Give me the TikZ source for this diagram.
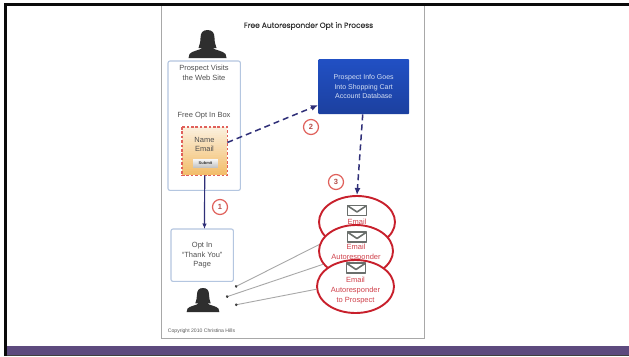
\documentclass[tikz,border=0pt]{standalone}
\usepackage{fontspec}
\setmainfont{Liberation Sans}
\newfontfamily\titlefont[FakeBold=0.25]{Poppins}
\usetikzlibrary{shapes.geometric,arrows.meta}
\definecolor{slideblack}{HTML}{0A0A0A}
\definecolor{bandpurple}{HTML}{5D4A7E}
\definecolor{pageedge}{HTML}{A8A8A8}
\definecolor{boxedge}{HTML}{B4C6E0}
\definecolor{navyline}{HTML}{2F2F78}
\definecolor{redline}{HTML}{C8202C}
\definecolor{softred}{HTML}{E0605A}
\definecolor{inktext}{HTML}{505050}
\definecolor{greyline}{HTML}{A8A8A8}
\definecolor{iconfill}{HTML}{6A6F6C}
\definecolor{peachtop}{HTML}{FBF0DE}
\definecolor{peachbottom}{HTML}{F3BE6C}
\definecolor{bluetop}{HTML}{2150C4}
\definecolor{bluebottom}{HTML}{1C409F}
\definecolor{bluetext}{HTML}{D5E0F5}
\tikzset{
  x=1pt,y=-1pt,
  bodytext/.style={inner sep=0pt,align=center,text=inktext,font=\fontsize{7.5}{9.8}\selectfont},
  flowedge/.style={color=boxedge,line width=1.1pt,rounded corners=2pt},
  optbox/.style={inner sep=0pt,anchor=north west},
  optedge/.style={color=softred,line width=1.1pt,dash pattern=on 2.6pt off 1.8pt},
  bluebox/.style={rounded corners=1pt,top color=bluetop,bottom color=bluebottom,inner sep=0pt,anchor=north west,align=center,text=bluetext,font=\fontsize{7}{9.2}\selectfont},
  mailoval/.style={ellipse,draw=redline,line width=1.9pt,fill=white,inner sep=0pt},
  mailtext/.style={inner sep=0pt,align=center,text=redline!85!white,font=\fontsize{7.5}{9.6}\selectfont},
  stepmark/.style={circle,draw=softred,line width=1.2pt,fill=white,minimum size=15pt,inner sep=0pt,text=softred!80!black,font=\bfseries\fontsize{7.5}{8}\selectfont},
  solidflow/.style={draw=navyline,line width=1.2pt,-{Latex[length=5.5pt,width=4.5pt]}},
  dashflow/.style={draw=navyline,line width=1.5pt,dash pattern=on 6pt off 4pt,-{Latex[length=7pt,width=6pt]}},
  replyline/.style={draw=greyline,line width=0.9pt,{Circle[length=2.6pt,black!75]}-},
  person/.pic={
    \fill[black!82] (0,0) .. controls (-5,0) and (-7,3) .. (-7,8)
      .. controls (-7,12) and (-8,15) .. (-9,18) -- (-5,18)
      .. controls (-7,20) and (-16,21) .. (-18,24) -- (-19,28) -- (19,28) -- (18,24)
      .. controls (16,21) and (7,20) .. (5,18) -- (9,18)
      .. controls (8,15) and (7,12) .. (7,8) .. controls (7,3) and (5,0) .. (0,0) -- cycle;
  },
  envelope/.pic={
    \draw[iconfill,line width=1.9pt,line join=round] (-9.5,-5) rectangle (9.5,5);
    \draw[iconfill,line width=1.6pt,line join=round] (-9,-4.5) -- (0,1.5) -- (9,-4.5);
  }
}
\begin{document}
\begin{tikzpicture}
\useasboundingbox (0,0) rectangle (629,356);
\fill[white] (0,0) rectangle (629,356);
% slide frame
\fill[slideblack] (4,3) rectangle (629,6);
\fill[slideblack] (4,3) rectangle (7,356);
\fill[bandpurple] (7,346) rectangle (629,355);
\fill[black!75] (7,355) rectangle (629,356);
% page
\draw[pageedge,line width=0.8pt] (161.5,6) -- (161.5,338) -- (424,338) -- (424,6);
% title
\node[inner sep=0pt,text=black!80,font=\titlefont\fontsize{7.5}{8}\selectfont] (title) at (308.5,26) {Free Autoresponder Opt in Process};
% people
\pic at (207.5,30) {person};
\pic[scale=0.86] at (203,288) {person};
\coordinate (replyA) at (235,287);
\coordinate (replyB) at (226,297);
\coordinate (replyC) at (235,305);
% boxes
\node[inner sep=0pt,anchor=north west,minimum width=72pt,minimum height=129pt] (visit) at (168,61) {};
\draw[flowedge] (visit.north west) rectangle (visit.south east);
\node[bodytext] (visittext) at (204,73) {Prospect Visits\\the Web Site};
\node[bodytext] (boxlabel) at (204,116) {Free Opt In Box};
\node[bodytext,anchor=north west,minimum width=62pt,minimum height=52pt] (thanks) at (171,229) {Opt In\\``Thank You''\\Page};
\draw[flowedge] (thanks.north west) rectangle (thanks.south east);
\node[optbox,minimum width=45pt,minimum height=48pt] (optin) at (182,127) {};
\foreach \i in {0,...,23}{
  \pgfmathsetmacro{\mixpct}{100*\i/23}
  \fill[peachbottom!\mixpct!peachtop] (182,127+2*\i) rectangle (227,129.2+2*\i);
}
\draw[optedge] (optin.north west) rectangle (optin.south east);
\node[bodytext] (fields) at (204.5,144.5) {Name\\Email};
\foreach \i in {0,...,8}{
  \pgfmathsetmacro{\mixpct}{3+2.5*\i}
  \fill[black!\mixpct] (193,159+\i) rectangle (218,160.2+\i);
}
\node[minimum width=25pt,minimum height=9pt,inner sep=0pt,text=black!80,font=\bfseries\fontsize{4}{5}\selectfont] (submit) at (205.5,163.5) {Submit};
\node[bluebox,minimum width=91pt,minimum height=55pt] (cart) at (318,59) {Prospect Info Goes\\Into Shopping Cart\\Account Database};
% ovals and reply lines
\node[mailoval,minimum width=76pt,minimum height=52pt] (mailA) at (357,222) {};
\draw[replyline] (replyA) -- (mailA.212.7);
\pic at (357,210.5) {envelope};
\node[mailtext] (mailAtext) at (357,222) {Email};
\node[mailoval,minimum width=74pt,minimum height=52pt] (mailB) at (356,251) {};
\draw[replyline] (replyB) -- (mailB.202);
\pic at (357,237) {envelope};
\node[mailtext] (mailBtext) at (356,252.5) {Email\\Autoresponder};
\node[mailoval,minimum width=77pt,minimum height=53pt] (mailC) at (355.5,286.5) {};
\draw[replyline] (replyC) -- (mailC.184.5);
\pic at (356,268) {envelope};
\node[mailtext] (mailCtext) at (355.5,290.5) {Email\\Autoresponder\\to Prospect};
% flow arrows
\draw[solidflow] (optin.south) -- (thanks.85.6);
\draw[dashflow] (optin.21.8) -- (cart.202);
\draw[dashflow] (cart.268) -- (mailA.north);
% step marks
\node[stepmark] (stepA) at (220,207) {1};
\node[stepmark] (stepB) at (311,127) {2};
\node[stepmark] (stepC) at (336,182) {3};
% copyright
\node[inner sep=0pt,text=black!65,font=\fontsize{5.1}{6}\selectfont] (copy) at (201.5,331) {Copyright 2010 Christina Hills};
\end{tikzpicture}
\end{document}
